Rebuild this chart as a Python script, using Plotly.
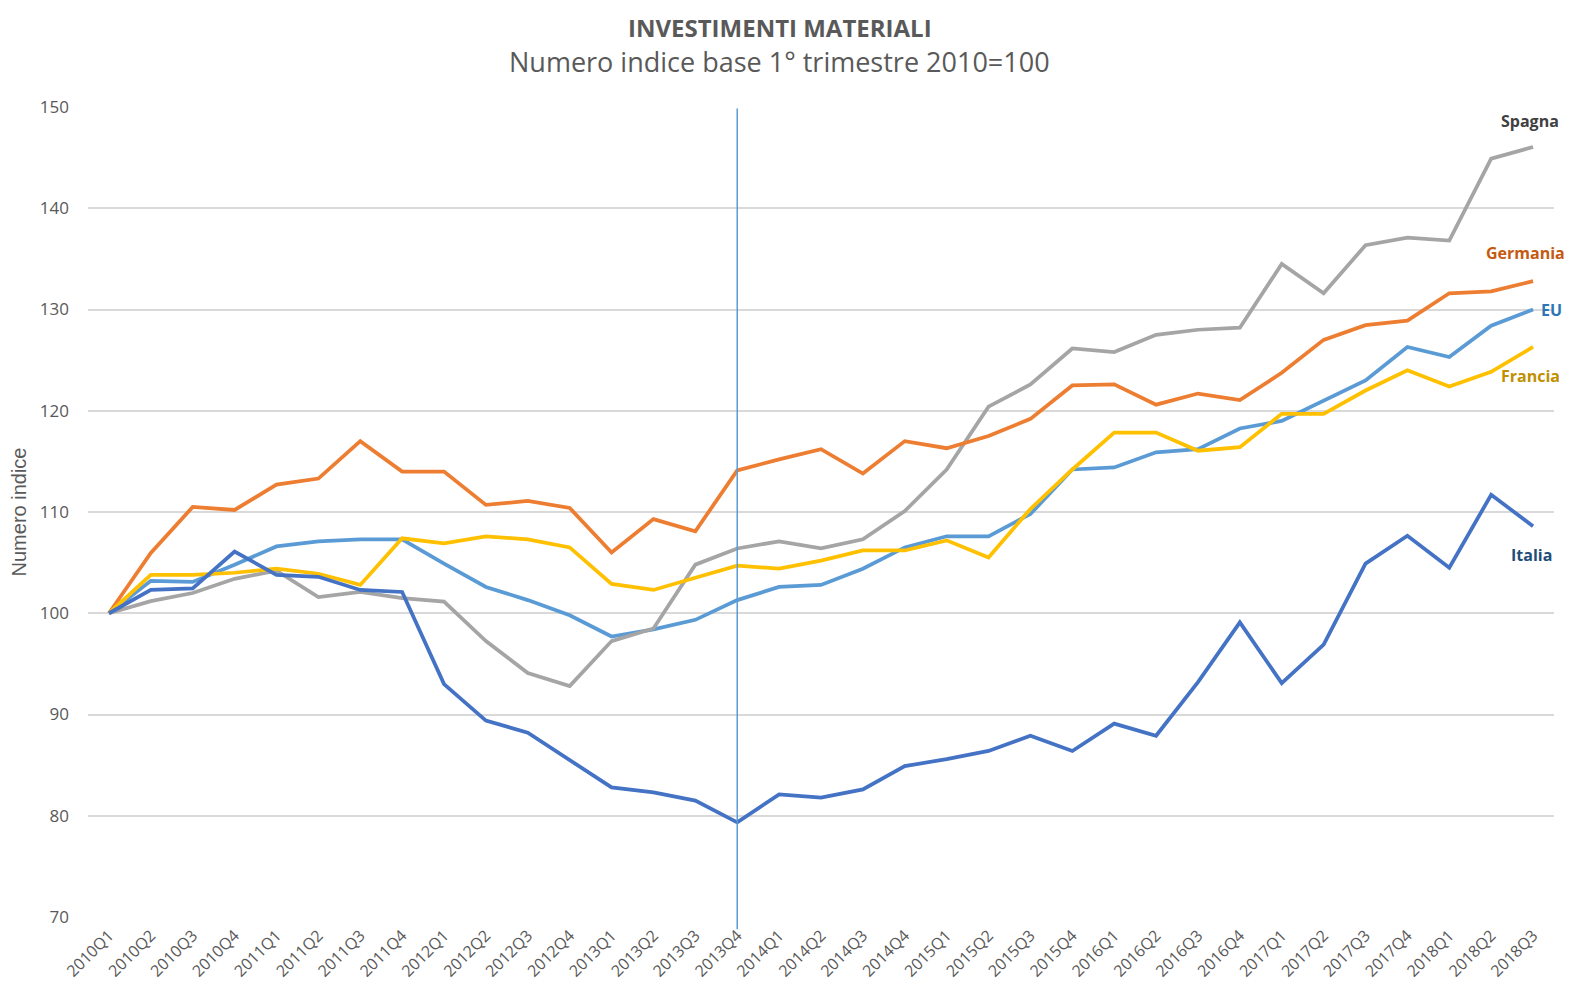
"""
Investimenti materiali: numero indice (base 1° trimestre 2010 = 100), per paese.
"""

import plotly.graph_objects as go

quarters = [f"{y}Q{q}" for y in range(2010, 2019) for q in range(1, 5)][:35]

italia = [100, 102.3, 102.45, 106.1, 103.8, 103.6, 102.3, 102.1,
          93.0, 89.4, 88.2, 85.5, 82.8, 82.3, 81.5, 79.35,
          82.1, 81.8, 82.6, 84.9, 85.6, 86.4, 87.9, 86.4,
          89.1, 87.9, 93.2, 99.1, 93.1, 96.9, 104.9, 107.65,
          104.5, 111.7, 108.6]
eu = [100, 103.2, 103.1, 104.8, 106.6, 107.1, 107.3, 107.3,
      104.9, 102.6, 101.3, 99.8, 97.7, 98.4, 99.35, 101.3,
      102.6, 102.8, 104.4, 106.5, 107.6, 107.6, 109.8, 114.2,
      114.4, 115.9, 116.2, 118.25, 119.0, 121.0, 123.0, 126.3,
      125.3, 128.4, 130.0]
germania = [100, 105.95, 110.5, 110.2, 112.7, 113.3, 117.0, 114.0,
            114.0, 110.7, 111.1, 110.4, 106.0, 109.3, 108.1, 114.1,
            115.2, 116.2, 113.8, 117.0, 116.3, 117.5, 119.2, 122.5,
            122.6, 120.6, 121.7, 121.05, 123.75, 127.0, 128.45, 128.9,
            131.6, 131.8, 132.8]
francia = [100, 103.8, 103.8, 104.0, 104.4, 103.9, 102.8, 107.4,
           106.9, 107.6, 107.3, 106.5, 102.9, 102.3, 103.5, 104.7,
           104.4, 105.2, 106.2, 106.2, 107.2, 105.5, 110.3, 114.2,
           117.85, 117.85, 116.05, 116.4, 119.7, 119.7, 122.0, 124.0,
           122.4, 123.85, 126.3]
spagna = [100, 101.2, 102.0, 103.4, 104.2, 101.6, 102.1, 101.5,
          101.15, 97.25, 94.1, 92.8, 97.25, 98.5, 104.8, 106.4,
          107.1, 106.4, 107.3, 110.1, 114.2, 120.4, 122.6, 126.15,
          125.8, 127.5, 128.0, 128.2, 134.5, 131.6, 136.35, 137.1,
          136.8, 144.9, 146.05]

y_ticks = [70, 80, 90, 100, 110, 120, 130, 140, 150]

# (name, values, line colour, label colour, label y, label x shift)
SERIES = [
    ("EU", eu, "#5B9BD5", "#2E75B6", 130.0, 18),
    ("Spagna", spagna, "#A5A5A5", "#404040", 148.6, -3),
    ("Germania", germania, "#ED7D31", "#C55A11", 135.6, -8),
    ("Francia", francia, "#FFC000", "#BF9000", 123.4, -3),
    ("Italia", italia, "#4472C4", "#1F4E79", 105.8, -2),
]

FONT = "Open Sans, Noto Sans, sans-serif"
GREY = "#595959"

fig = go.Figure()
for name, vals, color, _, _, _ in SERIES:
    fig.add_trace(go.Scatter(
        x=quarters, y=vals, mode="lines", name=name,
        line=dict(color=color, width=3.75),
        hovertemplate=f"{name}<br>%{{x}}: %{{y:.1f}}<extra></extra>",
    ))

annotations = [
    dict(text="<b>INVESTIMENTI MATERIALI</b>", xref="paper", yref="paper",
         x=0.472, y=1.1195, xanchor="center", yanchor="top", showarrow=False,
         borderpad=0, font=dict(family=FONT, size=24, color=GREY)),
    dict(text="Numero indice base 1° trimestre 2010=100", xref="paper", yref="paper",
         x=0.472, y=1.0564, xanchor="center", yanchor="middle", showarrow=False,
         borderpad=0, font=dict(family=FONT, size=27, color=GREY)),
]
for name, _, _, lab_color, lab_y, dx in SERIES:
    annotations.append(dict(
        text=f"<b>{name}</b>", x=quarters[-1], y=lab_y, xshift=dx,
        xanchor="center", yanchor="middle", showarrow=False,
        font=dict(family=FONT, size=16, color=lab_color),
    ))

# vertical marker at 2013Q4
fig.add_shape(type="line", x0="2013Q4", x1="2013Q4", xref="x", yref="paper",
              y0=-0.015, y1=0.998, line=dict(color="#5B9BD5", width=1.5))

# the page body keeps its default 8px margin, so the figure is 16px smaller
fig.update_layout(
    width=1556, height=972,
    margin=dict(l=79.5, r=10, t=98.7, b=63.3),
    paper_bgcolor="white", plot_bgcolor="white",
    showlegend=False,
    annotations=annotations,
    font=dict(family=FONT, color=GREY),
    xaxis=dict(
        type="category", range=[-0.5, 34.5], tickangle=-45, automargin=False,
        showgrid=False, zeroline=False, showline=False, ticks="",
        ticklabelstandoff=5,
        tickfont=dict(family=FONT, size=16, color=GREY),
    ),
    yaxis=dict(
        range=[70, 150], tickvals=y_ticks, showgrid=True, automargin=False,
        gridcolor="#D9D9D9", gridwidth=1.5, zeroline=False, ticks="",
        ticklabelstandoff=18,
        tickfont=dict(family=FONT, size=17, color=GREY),
        title=dict(text="Numero indice", standoff=14,
                   font=dict(family="Liberation Sans, Arial, sans-serif", size=20, color=GREY)),
    ),
)

fig.write_html("out.html")
